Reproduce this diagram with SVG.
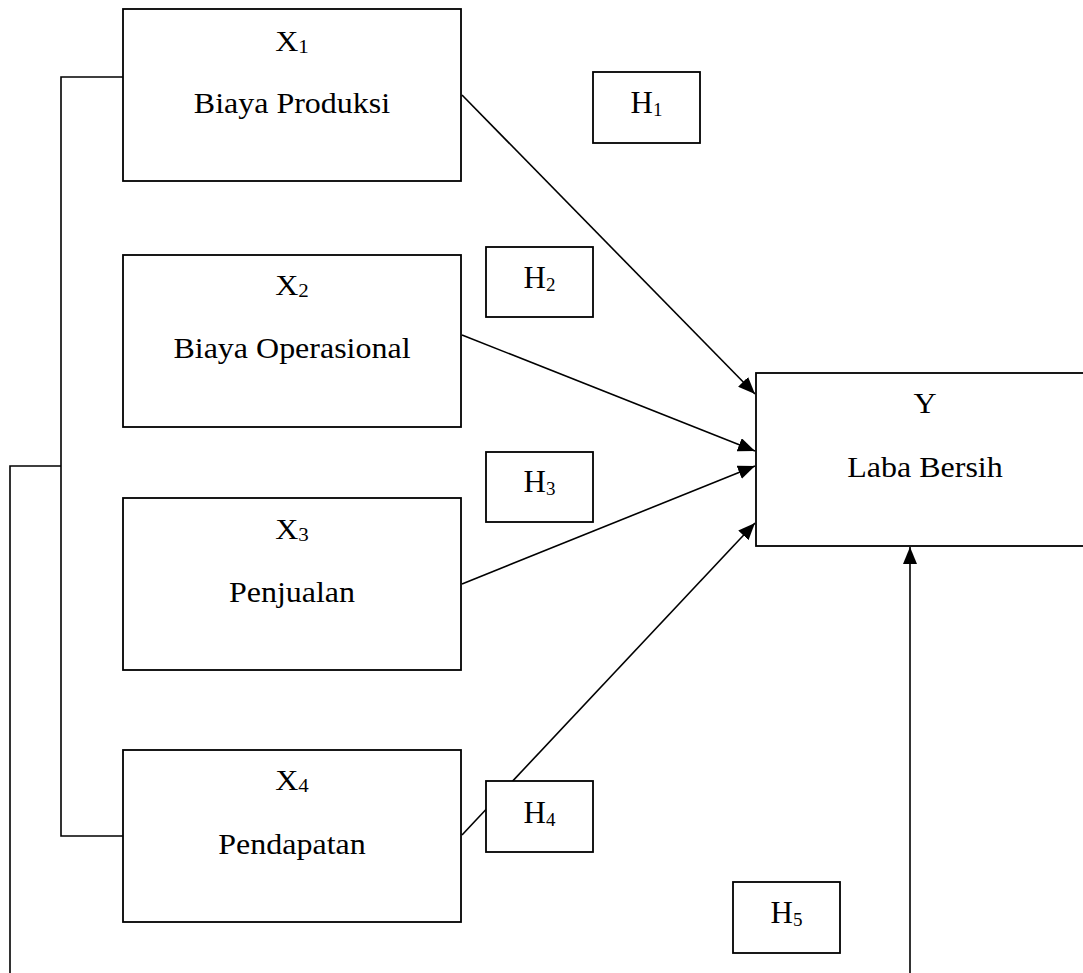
<svg xmlns="http://www.w3.org/2000/svg" width="1083" height="973" viewBox="0 0 1083 973">
<style>
.box{fill:#fff;stroke:#000;stroke-width:1.8}
.ln{fill:none;stroke:#000;stroke-width:1.6}
.t{font-family:"Liberation Serif","Times New Roman",serif;fill:#000;text-anchor:middle}
.tx{font-size:29px}
.ty{font-size:30px}
.th{font-size:31px}
.sub{font-size:19px}
</style>
<defs>
<marker id="ah" markerUnits="userSpaceOnUse" markerWidth="17" markerHeight="14" refX="17" refY="7" orient="auto">
<path d="M0,0 L17,7 L0,14 z" fill="#000"/>
</marker>
</defs>
<rect width="1083" height="973" fill="#fff"/>
<g id="connectors">
<path class="ln" d="M123,77 H61 V836 H123"/>
<path class="ln" d="M61,466 H10 V973"/>
<line class="ln" x1="462" y1="95" x2="755" y2="394" marker-end="url(#ah)"/>
<line class="ln" x1="462" y1="335" x2="755" y2="451" marker-end="url(#ah)"/>
<line class="ln" x1="462" y1="584" x2="755" y2="466" marker-end="url(#ah)"/>
<line class="ln" x1="462" y1="835" x2="755" y2="523" marker-end="url(#ah)"/>
<line class="ln" x1="910" y1="973" x2="910" y2="547" marker-end="url(#ah)"/>
</g>
<g id="x1">
<rect class="box" x="123" y="9" width="338" height="172"/>
<text class="t tx" transform="translate(292,51) scale(1.103,1)">X<tspan class="sub" dy="2">1</tspan></text>
<text class="t tx" transform="translate(292,113) scale(1.103,1)">Biaya Produksi</text>
</g>
<g id="x2">
<rect class="box" x="123" y="255" width="338" height="172"/>
<text class="t tx" transform="translate(292,295) scale(1.103,1)">X<tspan class="sub" dy="2">2</tspan></text>
<text class="t tx" transform="translate(292,358) scale(1.103,1)">Biaya Operasional</text>
</g>
<g id="x3">
<rect class="box" x="123" y="498" width="338" height="172"/>
<text class="t tx" transform="translate(292,539) scale(1.103,1)">X<tspan class="sub" dy="2">3</tspan></text>
<text class="t tx" transform="translate(292,602) scale(1.103,1)">Penjualan</text>
</g>
<g id="x4">
<rect class="box" x="123" y="750" width="338" height="172"/>
<text class="t tx" transform="translate(292,790) scale(1.103,1)">X<tspan class="sub" dy="2">4</tspan></text>
<text class="t tx" transform="translate(292,854) scale(1.103,1)">Pendapatan</text>
</g>
<g id="y">
<rect class="box" x="756" y="373" width="340" height="173"/>
<text class="t ty" transform="translate(925,413) scale(1.067,1)">Y</text>
<text class="t ty" transform="translate(925,477) scale(1.067,1)">Laba Bersih</text>
</g>
<g id="h1">
<rect class="box" x="593" y="72" width="107" height="71"/>
<text class="t th" x="646.5" y="113">H<tspan class="sub" dy="3">1</tspan></text>
</g>
<g id="h2">
<rect class="box" x="486" y="247" width="107" height="70"/>
<text class="t th" x="539.5" y="288">H<tspan class="sub" dy="3">2</tspan></text>
</g>
<g id="h3">
<rect class="box" x="486" y="452" width="107" height="70"/>
<text class="t th" x="539.5" y="492">H<tspan class="sub" dy="3">3</tspan></text>
</g>
<g id="h4">
<rect class="box" x="486" y="781" width="107" height="71"/>
<text class="t th" x="539.5" y="823">H<tspan class="sub" dy="3">4</tspan></text>
</g>
<g id="h5">
<rect class="box" x="733" y="882" width="107" height="71"/>
<text class="t th" x="786.5" y="923">H<tspan class="sub" dy="3">5</tspan></text>
</g>
</svg>
